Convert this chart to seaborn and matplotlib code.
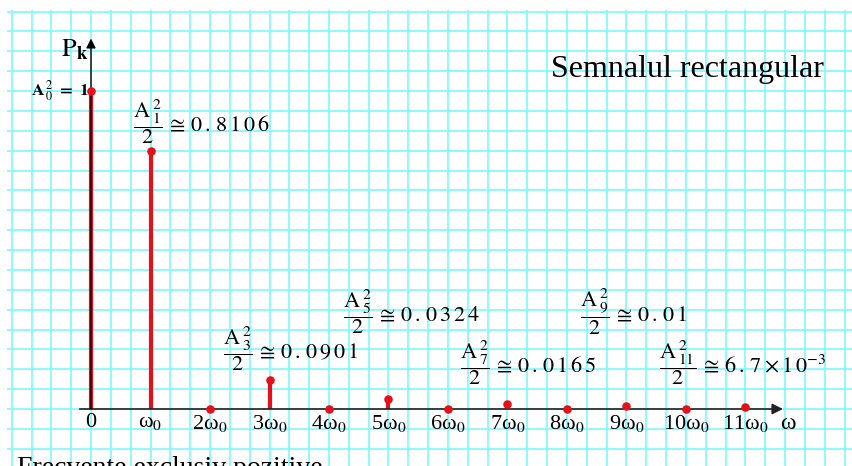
import numpy as np
import pandas as pd
import matplotlib
matplotlib.use("Agg")
import matplotlib.pyplot as plt
import seaborn as sns

# Power spectrum of a rectangular pulse train (positive frequencies only)
harmonics = [0, 1, 2, 3, 4, 5, 6, 7, 8, 9, 10, 11]
power = [1.0, 0.8106, 0.0, 0.0901, 0.0, 0.0324, 0.0, 0.0165, 0.0, 0.01, 0.0, 0.0067]
tick_labels = ["0", "ω$_0$", "2ω$_0$", "3ω$_0$", "4ω$_0$", "5ω$_0$", "6ω$_0$",
               "7ω$_0$", "8ω$_0$", "9ω$_0$", "10ω$_0$", "11ω$_0$"]
annotated = [1, 3, 5, 7, 9, 11]
value_text = ["0.8106", "0.0901", "0.0324", "0.0165", "0.01", "6.7×10^{-3}"]

df = pd.DataFrame({"k": harmonics, "P": power})

sns.set_theme(style="white")
plt.rcParams["font.family"] = ["Liberation Serif", "DejaVu Serif"]
plt.rcParams["mathtext.fontset"] = "stix"

W, H = 852, 466
fig = plt.figure(figsize=(W / 100, H / 100), dpi=100)
fig.patch.set_facecolor("white")

# graph-paper area: one x unit = 59.5 px, one y unit = 318 px
x0_px, y0_px = 91, 409
sx, sy = 59.5, 318.0
left_px, top_px = 7, 10
ax = fig.add_axes([left_px / W, 0, 1 - left_px / W, (H - top_px) / H])
for s in ax.spines.values():
    s.set_visible(False)

ax.set_xticks(np.arange(-4, 40) / 3)
ax.set_yticks(np.arange(-3, 21) / 16)
ax.tick_params(length=0, labelbottom=False, labelleft=False)
ax.grid(True, color="#84F8FF", lw=1.25)
ax.set_axisbelow(True)

red = "#E5101A"

# stems and dots
ax.vlines(df["k"], 0, df["P"], color=red, lw=3.0, zorder=3)
sns.scatterplot(data=df, x="k", y="P", ax=ax, color=red, s=38,
                edgecolor=red, linewidth=0, zorder=4, legend=False)
ax.set_xlabel("")
ax.set_ylabel("")
ax.set_xlim((left_px - x0_px) / sx, (W - x0_px) / sx)
ax.set_ylim((y0_px - H) / sy, (y0_px - top_px) / sy)

# axes with arrow heads
ax.annotate("", xy=(11.63, 0), xytext=(-0.19, 0),
            arrowprops=dict(arrowstyle="-|>", color="#222222", lw=1.2,
                            mutation_scale=16, shrinkA=0, shrinkB=0))
ax.annotate("", xy=(0, 1.165), xytext=(0, 0),
            arrowprops=dict(arrowstyle="-|>", color="black", lw=1.0,
                            mutation_scale=14, shrinkA=0, shrinkB=0))

# harmonic labels
for k, lab in zip(harmonics, tick_labels):
    ax.text(k, -0.012, lab, ha="center", va="top", fontsize=16, color="black")
ax.text(11.72, -0.012, "ω", ha="center", va="top", fontsize=17, color="black")

ax.text(-0.04, 1.13, r"$\mathrm{P}_{\mathbf{k}}$", ha="right", va="center",
        fontsize=19, color="black")
ax.text(-0.04, power[0], r"$\mathbf{A}\,{}_{0}^{2}\ \mathbf{=\ 1}$", ha="right",
        va="center", fontsize=12.5, color="black")


def spaced(s):
    # widen the digits the way the worksheet typesets them
    if "×" in s:
        mant, expo = s.split("×")
        return r"\,".join(mant) + r"\times" + r"\,".join("10") + expo[2:]
    return r"\,".join(s)


# value annotations for the odd harmonics
label_pos = {1: (-0.29, 0.9025), 3: (-0.78, 0.1887), 5: (-0.77, 0.305),
             7: (-0.80, 0.1447), 9: (-0.78, 0.305), 11: (-1.45, 0.1447)}
for k, vt in zip(annotated, value_text):
    dx, ly = label_pos[k]
    ax.text(k + dx, ly,
            r"$\dfrac{\mathrm{A}\,{}_{%d}^{2}}{2}\,\cong\,%s$" % (k, spaced(vt)),
            ha="left", va="center", fontsize=16, color="black")

fig.text(551 / W, 1 - 69 / H, "Semnalul rectangular", ha="left", va="center",
         fontsize=23, color="black")
fig.text(17 / W, 1 - 456 / H, "Frecvente exclusiv pozitive", ha="left", va="top",
         fontsize=20, color="black")

fig.savefig("out.png", dpi=100)
